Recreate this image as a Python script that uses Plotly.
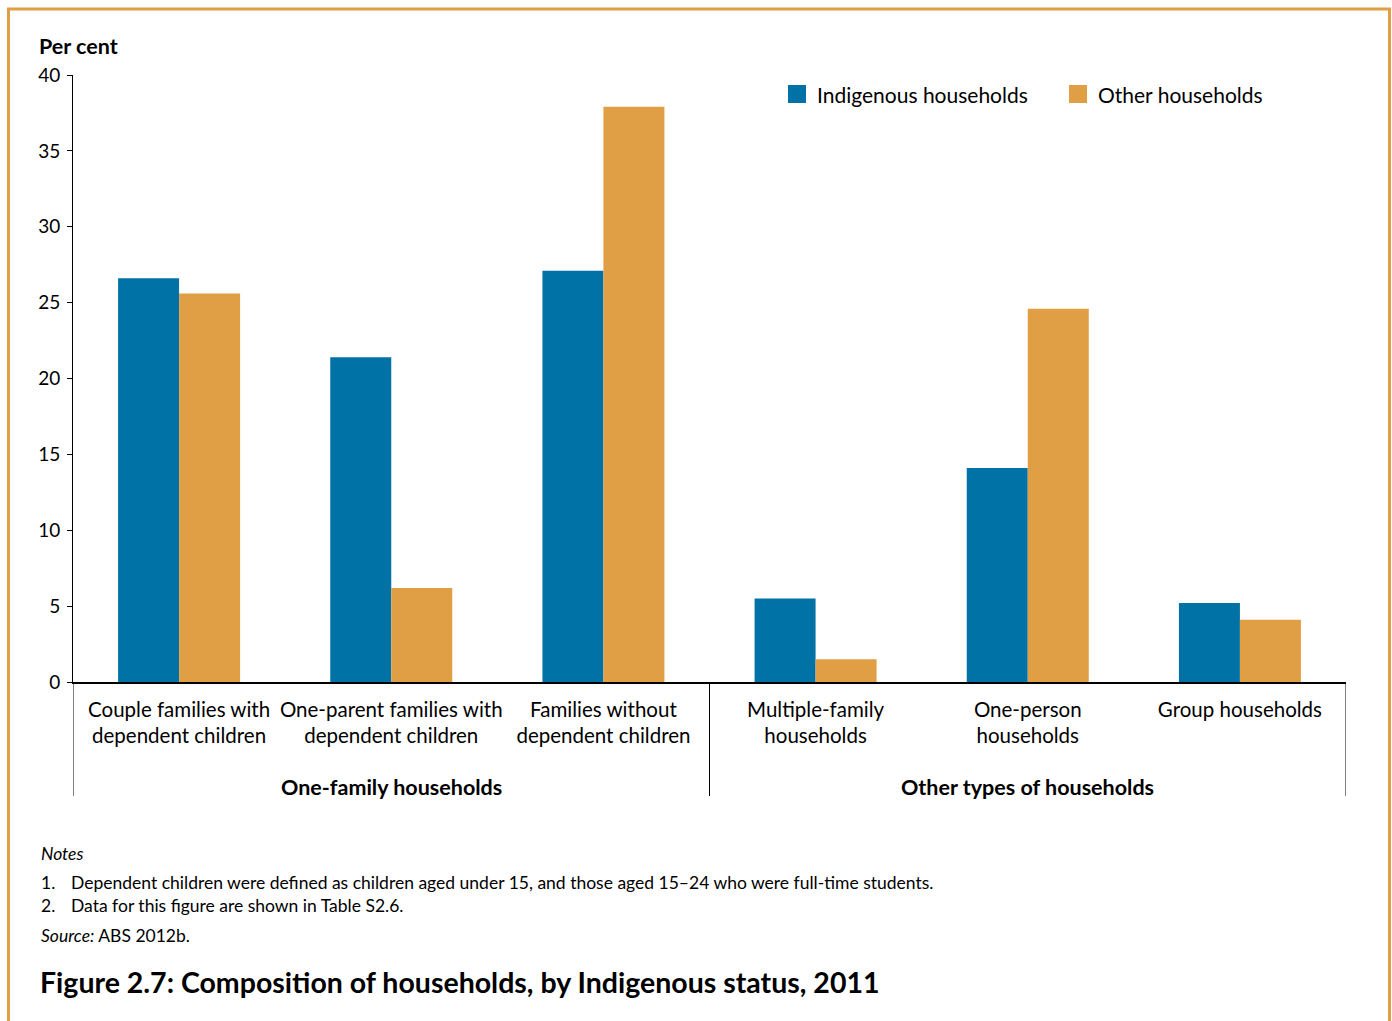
import plotly.graph_objects as go

# data
categories = [
    "Couple families with<br>dependent children",
    "One-parent families with<br>dependent children",
    "Families without<br>dependent children",
    "Multiple-family<br>households",
    "One-person<br>households",
    "Group households",
]
indigenous = [26.6, 21.4, 27.1, 5.5, 14.1, 5.2]
other = [25.6, 6.2, 37.9, 1.5, 24.6, 4.1]
series = ["Indigenous households", "Other households"]
groups = ["One-family households", "Other types of households"]
notes = [
    "Dependent children were defined as children aged under 15, and those aged 15\u201324 who were full-time students.",
    "Data for this figure are shown in Table S2.6.",
]

BLUE = "#0072A6"
ORANGE = "#E09E45"
FONT = "Lato"

# body margin is removed in the page (see post_script), so figure == window
W, H = 1392, 1021
L, T = 73, 75
R = W - 1346
B = H - 682
plot_w = W - L - R
plot_h = H - T - B


def py(ypx):
    """screen row -> paper y"""
    return (H - B - ypx) / plot_h


def px(xpx):
    """screen column -> paper x"""
    return (xpx - L) / plot_w


fig = go.Figure()
fig.add_trace(go.Bar(name=series[0], x=categories, y=indigenous,
                     marker=dict(color=BLUE, line=dict(width=0))))
fig.add_trace(go.Bar(name=series[1], x=categories, y=other,
                     marker=dict(color=ORANGE, line=dict(width=0))))

fig.update_layout(
    width=W, height=H,
    margin=dict(l=L, r=R, t=T, b=B, pad=0),
    paper_bgcolor="white", plot_bgcolor="white",
    font=dict(family=FONT, size=20, color="black"),
    barmode="group", bargap=0.425, bargroupgap=0,
    showlegend=False,
)
fig.update_xaxes(range=[-0.5, 5.5], showline=True, linecolor="black", linewidth=2,
                 ticks="", showgrid=False, tickfont=dict(size=20.5), zeroline=False,
                 ticklabelstandoff=8)
fig.update_yaxes(range=[0, 40], dtick=5, showline=True, linecolor="black", linewidth=1,
                 ticks="outside", ticklen=5, tickcolor="black", showgrid=False,
                 zeroline=False, tickfont=dict(size=19), ticklabelstandoff=3)

# hand-made legend with larger swatches
for name, color, sx in zip(series, [BLUE, ORANGE], [788, 1069]):
    fig.add_shape(type="rect", xref="paper", yref="paper", x0=px(sx), x1=px(sx + 18),
                  y0=py(103), y1=py(85), fillcolor=color, line=dict(width=0))
    fig.add_annotation(text=name, xref="paper", yref="paper", x=px(sx + 27), y=py(94),
                       xanchor="left", yanchor="middle", showarrow=False,
                       font=dict(size=21))

# group dividers below the axis
for xv in [-0.5, 2.5, 5.5]:
    fig.add_shape(type="line", xref="x", yref="paper", x0=xv, x1=xv,
                  y0=0, y1=py(796), line=dict(color="black", width=1))

# group labels
for g, xc in zip(groups, [1, 4]):
    fig.add_annotation(text="<b>%s</b>" % g, xref="x", yref="paper", x=xc, y=py(787),
                       showarrow=False, yanchor="middle", font=dict(size=21.5))

# y-axis title
fig.add_annotation(text="<b>Per cent</b>", xref="paper", yref="paper", x=px(37), y=py(46),
                   xanchor="left", yanchor="middle", showarrow=False, font=dict(size=21.5))

# notes, source and figure title
fig.add_annotation(text="<i>Notes</i>", xref="paper", yref="paper", x=px(39), y=py(853),
                   xanchor="left", yanchor="middle", showarrow=False, font=dict(size=17.5))
for i, (note, ypx) in enumerate(zip(notes, [883, 905])):
    fig.add_annotation(text="%d." % (i + 1), xref="paper", yref="paper", x=px(39), y=py(ypx),
                       xanchor="left", yanchor="middle", showarrow=False, font=dict(size=17.5))
    fig.add_annotation(text=note, xref="paper", yref="paper", x=px(69), y=py(ypx),
                       xanchor="left", yanchor="middle", showarrow=False, font=dict(size=17.5))
fig.add_annotation(text="<i>Source:</i> ABS 2012b.", xref="paper", yref="paper", x=px(39),
                   y=py(935), xanchor="left", yanchor="middle", showarrow=False,
                   font=dict(size=17.5))
fig.add_annotation(text="<b>Figure 2.7: Composition of households, by Indigenous status, 2011</b>",
                   xref="paper", yref="paper", x=px(38), y=py(982), xanchor="left",
                   yanchor="middle", showarrow=False, font=dict(size=28.5))

# orange frame around the figure (open at the bottom, as in the source page)
fig.add_shape(type="rect", xref="paper", yref="paper", x0=px(8.5), x1=px(1389.5),
              y0=py(1040), y1=py(9), line=dict(color=ORANGE, width=3))

fig.write_html("out.html",
               config={"displayModeBar": False},
               post_script="document.body.style.margin='0';"
                           "document.body.style.overflow='hidden';")
